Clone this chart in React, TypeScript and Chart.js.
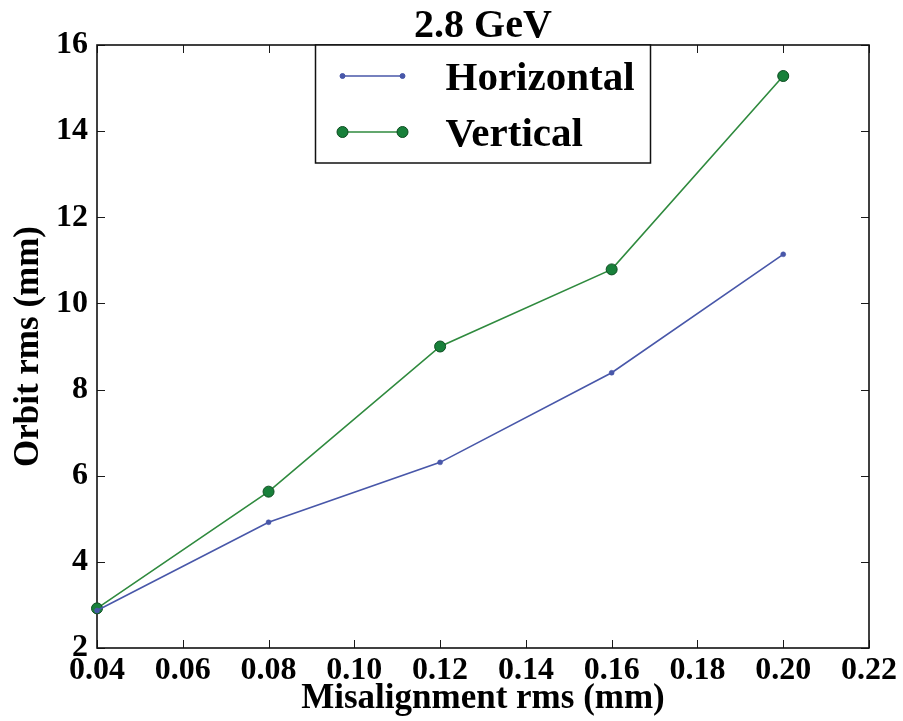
import React, { useEffect, useRef } from "react";
import { Chart, registerables } from "chart.js";

Chart.register(...registerables);

const misalignment = [0.04, 0.08, 0.12, 0.16, 0.2];
const horizontal = [2.87, 4.92, 6.31, 8.39, 11.14];
const vertical = [2.92, 5.63, 9.0, 10.79, 15.28];
const xTicks = [0.04, 0.06, 0.08, 0.1, 0.12, 0.14, 0.16, 0.18, 0.2, 0.22];
const yTicks = [2, 4, 6, 8, 10, 12, 14, 16];
const seriesNames = ["Horizontal", "Vertical"];
const chartTitle = "2.8 GeV";
const xTitle = "Misalignment rms (mm)";
const yTitle = "Orbit rms (mm)";

const FONT = "'Liberation Serif', 'Times New Roman', serif";
const BLUE = "#4857a9";
const GREEN = "#2f8a3e";
const GREEN_FILL = "#18803a";
const GREEN_EDGE = "#0e4d22";

const framePlugin = {
  id: "mplFrame",
  beforeDatasetsDraw(chart: any) {
    const { ctx, chartArea: a, scales } = chart;
    ctx.save();
    ctx.strokeStyle = "#1a1a1a";
    ctx.lineWidth = 1;
    const tl = 8;
    ctx.beginPath();
    for (const t of xTicks) {
      const x = Math.round(scales.x.getPixelForValue(t)) + 0.5;
      ctx.moveTo(x, a.bottom);
      ctx.lineTo(x, a.bottom - tl);
      ctx.moveTo(x, a.top);
      ctx.lineTo(x, a.top + tl);
    }
    for (const t of yTicks) {
      const y = Math.round(scales.y.getPixelForValue(t)) + 0.5;
      ctx.moveTo(a.left, y);
      ctx.lineTo(a.left + tl, y);
      ctx.moveTo(a.right, y);
      ctx.lineTo(a.right - tl, y);
    }
    ctx.stroke();
    ctx.lineWidth = 1.6;
    ctx.strokeStyle = "#111";
    ctx.strokeRect(a.left, a.top, a.right - a.left, a.bottom - a.top);
    ctx.restore();
  },
  afterDraw(chart: any) {
    const { ctx, chartArea: a } = chart;
    ctx.save();
    // title
    ctx.fillStyle = "#000";
    ctx.font = `bold 40px ${FONT}`;
    ctx.textAlign = "center";
    ctx.textBaseline = "alphabetic";
    ctx.fillText(chartTitle, (a.left + a.right) / 2, 37);

    // legend
    const w = 335;
    const h = 118;
    const lx = (a.left + a.right) / 2 - w / 2;
    const ly = a.top;
    ctx.fillStyle = "#fff";
    ctx.fillRect(lx, ly, w, h);
    ctx.strokeStyle = "#111";
    ctx.lineWidth = 1.5;
    ctx.strokeRect(lx, ly, w, h);
    const entries = chart.data.datasets.map((d: any, i: number) => ({
      label: d.label,
      color: d.borderColor,
      fill: d.pointBackgroundColor,
      edge: d.pointBorderColor,
      r: d.pointRadius,
      y: ly + 31 + i * 56,
    }));
    ctx.font = `bold 41px ${FONT}`;
    ctx.textAlign = "left";
    for (const e of entries) {
      const x0 = lx + 27;
      const x1 = lx + 87;
      ctx.strokeStyle = e.color;
      ctx.lineWidth = 1.6;
      ctx.beginPath();
      ctx.moveTo(x0, e.y);
      ctx.lineTo(x1, e.y);
      ctx.stroke();
      for (const px of [x0, x1]) {
        ctx.beginPath();
        ctx.arc(px, e.y, e.r, 0, Math.PI * 2);
        ctx.fillStyle = e.fill;
        ctx.fill();
        ctx.strokeStyle = e.edge;
        ctx.lineWidth = 1;
        ctx.stroke();
      }
      ctx.fillStyle = "#000";
      ctx.textBaseline = "alphabetic";
      ctx.fillText(e.label, lx + 130, e.y + 14);
    }
    ctx.restore();
  },
};

export default function App() {
  const ref = useRef<HTMLCanvasElement | null>(null);
  useEffect(() => {
    if (!ref.current) return;
    const chart = new Chart(ref.current, {
      type: "line",
      data: {
        datasets: [
          {
            label: seriesNames[0],
            data: misalignment.map((x, i) => ({ x, y: horizontal[i] })),
            borderColor: BLUE,
            backgroundColor: BLUE,
            pointBackgroundColor: BLUE,
            pointBorderColor: BLUE,
            pointRadius: 2.5,
            pointBorderWidth: 0.5,
            borderWidth: 1.6,
            tension: 0,
            clip: false as any,
          },
          {
            label: seriesNames[1],
            data: misalignment.map((x, i) => ({ x, y: vertical[i] })),
            borderColor: GREEN,
            backgroundColor: GREEN_FILL,
            pointBackgroundColor: GREEN_FILL,
            pointBorderColor: GREEN_EDGE,
            pointRadius: 5.5,
            pointBorderWidth: 1,
            borderWidth: 1.6,
            tension: 0,
            clip: false as any,
          },
        ],
      },
      options: {
        animation: false,
        responsive: false,
        maintainAspectRatio: false,
        layout: { padding: { top: 45, right: 34, left: 0, bottom: 0 } },
        plugins: {
          legend: { display: false },
          tooltip: { enabled: false },
          title: { display: false },
        },
        scales: {
          x: {
            type: "linear",
            min: 0.04,
            max: 0.22,
            afterFit: (s: any) => {
              s.height = 73;
            },
            afterBuildTicks: (s: any) => {
              s.ticks = xTicks.map((v) => ({ value: v }));
            },
            grid: { display: false, drawTicks: false },
            border: { display: false },
            ticks: {
              color: "#000",
              font: { family: FONT, size: 32, weight: "bold" },
              padding: 4,
              maxRotation: 0,
              autoSkip: false,
              callback: (v: any) => Number(v).toFixed(2),
            },
            title: {
              display: true,
              text: xTitle,
              color: "#000",
              font: { family: FONT, size: 35, weight: "bold" },
              padding: { top: 0, bottom: 1 },
            },
          },
          y: {
            type: "linear",
            min: 2,
            max: 16,
            afterFit: (s: any) => {
              s.width = 97;
            },
            afterBuildTicks: (s: any) => {
              s.ticks = yTicks.map((v) => ({ value: v }));
            },
            grid: { display: false, drawTicks: false },
            border: { display: false },
            ticks: {
              color: "#000",
              font: { family: FONT, size: 32, weight: "bold" },
              padding: 9,
              autoSkip: false,
              callback: (v: any) => String(v),
            },
            title: {
              display: true,
              text: yTitle,
              color: "#000",
              font: { family: FONT, size: 35, weight: "bold" },
              padding: { top: 8, bottom: 0 },
            },
          },
        },
      },
      plugins: [framePlugin],
    });
    return () => chart.destroy();
  }, []);
  return (
    <div style={{ position: "fixed", left: 0, top: 0, width: 903, height: 721, background: "#fff" }}>
      <canvas ref={ref} width={903} height={721} style={{ width: 903, height: 721 }} />
    </div>
  );
}
